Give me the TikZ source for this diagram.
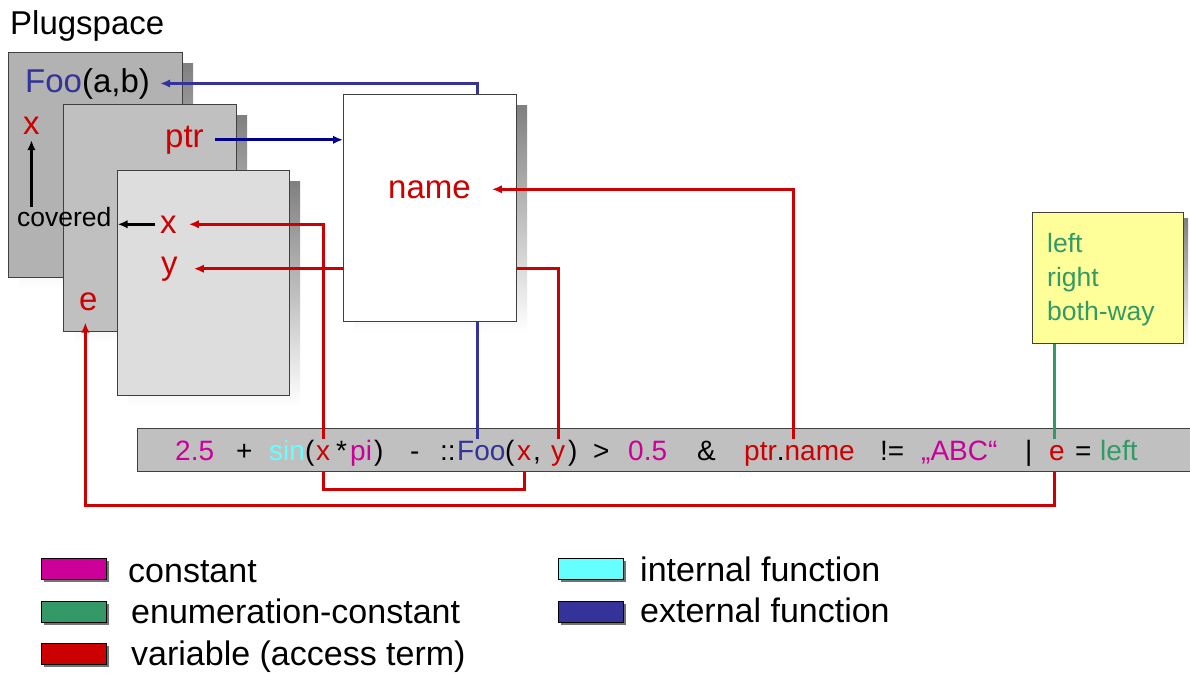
\documentclass[tikz,border=0pt]{standalone}
\usepackage{fontspec}
\setmainfont{Liberation Sans}
\usetikzlibrary{arrows.meta}

\definecolor{cconst}{RGB}{204,0,153}
\definecolor{cenum}{RGB}{51,153,102}
\definecolor{cvar}{RGB}{204,0,0}
\definecolor{cint}{RGB}{102,255,255}
\definecolor{cext}{RGB}{51,51,153}
\definecolor{cnavy}{RGB}{0,0,140}
\definecolor{shade}{RGB}{196,196,196}
\definecolor{layerA}{RGB}{178,178,178}
\definecolor{layerB}{RGB}{192,192,192}
\definecolor{layerC}{RGB}{221,221,221}
\definecolor{memo}{RGB}{255,255,153}

\tikzset{
  sheet/.style={draw=black!75, line width=1.2pt, rectangle, inner sep=0pt, anchor=north west},
  big/.style={font=\fontsize{33}{36}\selectfont, inner sep=0pt, anchor=base west},
  small/.style={font=\fontsize{26.5}{30}\selectfont, inner sep=0pt, anchor=base west},
  ftok/.style={font=\fontsize{28}{30}\selectfont, inner sep=0pt, anchor=base west,
               text height=21pt, text depth=11pt},
  legtxt/.style={font=\fontsize{34}{36}\selectfont, inner sep=0pt, anchor=base west},
  legbox/.style={draw=black, line width=1.2pt, minimum width=65pt, minimum height=21pt,
                 inner sep=0pt, anchor=north west},
  tip/.style={-{Latex[length=10pt,width=8.5pt]}},
  varline/.style={draw=cvar, line width=3pt},
  extline/.style={draw=cext, line width=3pt},
  navyline/.style={draw=cnavy, line width=3pt},
  enumline/.style={draw=cenum, line width=3pt},
  plainarrow/.style={draw=black, line width=3pt},
}

\begin{document}
\begin{tikzpicture}[x=1pt, y=-1pt]
\useasboundingbox[fill=white] (0,0) rectangle (1190,673);

\node[big] (title) at (10,34) {Plugspace};

% stacked plug sheets with their shadows
\fill[shade] (19,63) rectangle (193,288);
\node[sheet, fill=layerA, minimum width=174pt, minimum height=225pt] (pan1) at (8,52) {};
\fill[shade] (74,115) rectangle (247,342);
\node[sheet, fill=layerB, minimum width=173pt, minimum height=227pt] (pan2) at (63,104) {};
\fill[shade] (128,181) rectangle (300,406);
\node[sheet, fill=layerC, minimum width=172pt, minimum height=225pt] (pan3) at (117,170) {};

\node[big] (fooab) at (25,92) {\textcolor{cext}{Foo}(a,b)};
\node[big, text=cvar] (p1x) at (23,134) {x};
\node[small] (cov) at (17,226) {covered};
\node[big, text=cvar] (pptr) at (165,147) {ptr};
\node[big, text=cvar] (px) at (160,233) {x};
\node[big, text=cvar] (py) at (161,274) {y};
\node[big, text=cvar] (pe) at (79,310) {e};

% expression bar
\node[sheet, fill=layerB, minimum width=1060pt, minimum height=43pt] (bar) at (137,428) {};
\node[ftok, text=cconst] (f1) at (175,460) {2.5};
\node[ftok] (f2) at (236,460) {+};
\node[ftok, text=cint] (f3) at (269,460) {sin};
\node[ftok] (f4) at (305,460) {(};
\node[ftok, text=cvar] (fx1) at (316,460) {x};
\node[ftok] (f5) at (336,460) {*};
\node[ftok, text=cconst] (f6) at (350,460) {pi};
\node[ftok] (f7) at (374,460) {)};
\node[ftok] (f8) at (410,460) {-};
\node[ftok] (f9) at (440,460) {::};
\node[ftok, text=cext] (fFoo) at (457,460) {Foo};
\node[ftok] (f10) at (505,460) {(};
\node[ftok, text=cvar] (fx2) at (517,460) {x};
\node[ftok] (f11) at (533,460) {,};
\node[ftok, text=cvar] (fy) at (551,460) {y};
\node[ftok] (f12) at (568,460) {)};
\node[ftok] (f13) at (593,460) {>};
\node[ftok, text=cconst] (f14) at (628,460) {0.5};
\node[ftok] (f15) at (697,460) {\&};
\node[ftok] (fpn) at (744,460) {\textcolor{cvar}{ptr}.\textcolor{cvar}{name}};
\node[ftok] (f16) at (880,460) {!=};
\node[ftok, text=cconst] (f17) at (921,460) {„ABC“};
\node[ftok] (f18) at (1025,460) {|};
\node[ftok, text=cvar] (fe) at (1049,460) {e};
\node[ftok] (f19) at (1075,460) {=};
\node[ftok, text=cenum] (f20) at (1100,460) {left};

% enumeration note
\fill[shade] (1037,218) rectangle (1188,349);
\node[sheet, fill=memo, minimum width=151pt, minimum height=131pt] (memo) at (1032,212) {};
\node[small, text=cenum] (m1) at (1047,252) {left};
\node[small, text=cenum] (m2) at (1047,286) {right};
\node[small, text=cenum] (m3) at (1047,320) {both-way};

% record sheet: shadow first, then the links running behind it
\fill[shade] (354,105) rectangle (527,332);
\draw[extline, tip] ([xshift=-3.5pt]fFoo.north) |- ([xshift=10pt]fooab.east);
\draw[varline, tip] (fy.north) |- ([xshift=16pt]py.east);
\node[sheet, fill=white, minimum width=173pt, minimum height=227pt] (rec) at (343,94) {};
\node[big, text=cvar] (nm) at (388,198) {name};

% links drawn on top
\draw[varline, tip] (fx1.north) |- ([xshift=12pt]px.east);
\draw[varline] (fx1.south) -- ([yshift=-18pt]fx1.south) -| (fx2.south);
\draw[varline, tip] ([xshift=-3pt]fe.south) -- ([xshift=-3pt,yshift=-34pt]fe.south)
      -| ([xshift=-3pt,yshift=-12pt]pe.south);
\draw[varline, tip] ([xshift=-6pt]fpn.north) |- ([xshift=21pt]nm.east);
\draw[enumline] ([xshift=-3pt]fe.north |- memo.south) -- ([xshift=-3pt]fe.north);
\draw[navyline, tip] ([xshift=11pt]pptr.east) -- (pptr.east -| rec.west);
\draw[plainarrow, tip, shorten >=6pt] ([xshift=-5pt]px.west) -- (px.west -| cov.east);
\draw[plainarrow, tip] (p1x.south |- cov.north) -- ([yshift=-6pt]p1x.south);

% legend
\fill[black!55] (44,561) rectangle (109,582);
\node[legbox, fill=cconst] (k1) at (41,558) {};
\node[legtxt] (t1) at (128,582) {constant};
\fill[black!55] (44,604) rectangle (109,625);
\node[legbox, fill=cenum] (k2) at (41,601) {};
\node[legtxt] (t2) at (131,623) {enumeration-constant};
\fill[black!55] (44,646) rectangle (109,667);
\node[legbox, fill=cvar] (k3) at (41,643) {};
\node[legtxt] (t3) at (131,665) {variable (access term)};
\fill[black!55] (561,561) rectangle (626,582);
\node[legbox, fill=cint] (k4) at (558,558) {};
\node[legtxt] (t4) at (640,581) {internal function};
\fill[black!55] (561,604) rectangle (626,625);
\node[legbox, fill=cext] (k5) at (558,601) {};
\node[legtxt] (t5) at (640,622) {external function};
\end{tikzpicture}
\end{document}
